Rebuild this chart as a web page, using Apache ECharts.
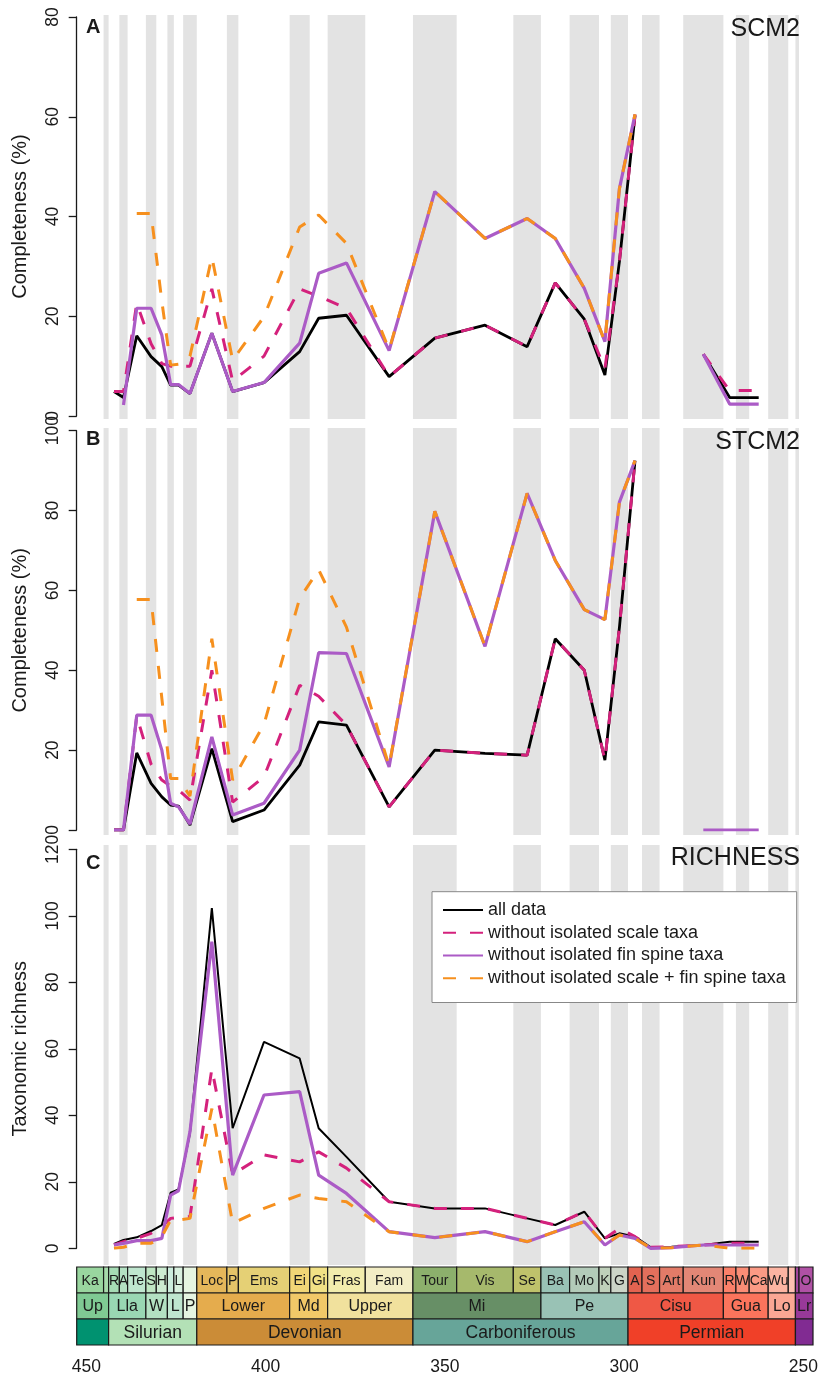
<!DOCTYPE html>
<html><head><meta charset="utf-8">
<script src="https://cdn.jsdelivr.net/npm/echarts@6/dist/echarts.min.js"></script>
<style>html,body{margin:0;padding:0;background:#fff}#c{width:818px;height:1379px}</style>
</head><body><div id="c"></div>
<script>
// ---------- data ----------
// stage midpoints (Ma): Rhu, Aer, Tel, She, Hom, Gor, Lud, Pri, Loc, Pra, Ems, Eif, Giv, Fra, Fam,
// Tou, Vis, Ser, Bas, Mos, Kas, Gzh, Ass, Sak, Art, Kun, Roa, Wor, Cap
const ages = [442.3, 439.65, 435.95, 431.95, 428.95, 426.5, 424.3, 421.1, 415.0, 409.2, 400.45, 390.5, 385.2, 377.45, 365.55,
  352.8, 338.8, 327.05, 319.2, 311.1, 305.35, 301.3, 296.95, 292.55, 286.8, 277.9, 270.55, 266.95, 262.45];

// Panel A: SCM2 (%)
const scmAll    = [4.9, 3.7, 16.1, 11.9, 9.9, 6.2, 6.2, 4.5, 16.6, 4.9, 6.7, 12.9, 19.6, 20.2, 7.9, 15.6, 18.2, 13.9, 26.7, 19.4, 8.2, 31, 60.3, null, null, 12.4, 3.7, 3.7, 3.7];
const scmNoScale= [4.9, 4.9, 22.6, 14.5, 10.5, 10, 10, 10, 25.5, 7, 12, 25.5, 24, 21.6, 7.9, 15.6, 18.2, 13.9, 26.7, 19.4, 9.5, 31, 60.3, null, null, 12.4, 5.1, 5.1, 5.1];
const scmNoFin  = [null, 2.2, 21.6, 21.6, 16.2, 6.3, 6.3, 4.5, 16.6, 4.9, 6.7, 14.6, 28.6, 30.7, 13.1, 45.0, 35.6, 39.6, 35.6, 25.6, 14.9, 45.6, 60.5, null, null, 12.4, 2.4, 2.4, 2.4];
const scmNoBoth = [null, null, 40.6, 40.6, 23, 10.2, 10.4, 12, 31.9, 11.2, 19.9, 37.9, 40.3, 34.6, 13.3, 45.0, 35.6, 39.6, 35.6, 25.6, 14.9, 45.6, 60.5, null, null, null, null, null, null];

// Panel B: STCM2 (%)
const stcmAll    = [0, 0, 19.3, 11.7, 8.3, 6.25, 6.0, 1.25, 20.4, 2.1, 5.0, 16.25, 27.1, 26.25, 5.8, 20, 19.2, 18.75, 47.9, 40, 17.5, 50.75, 92.5, null, null, null, null, null, null];
const stcmNoScale= [0, 0, 28.5, 16.5, 12.5, 11, 10, 7.5, 40, 7, 13.3, 36.25, 33.5, 26.25, 5.8, 20, 19.2, 18.75, 47.9, 40, 17.5, 50.75, 92.5, null, null, null, null, null, null];
const stcmNoFin  = [0, 0, 28.75, 28.75, 20, 6.7, 5.8, 1.5, 23.3, 3.75, 6.7, 20, 44.4, 44.2, 15.8, 79.8, 46, 84.3, 67.5, 55.2, 52.7, 82.1, 92.5, null, null, 0, 0, 0, 0];
const stcmNoBoth = [null, null, 57.7, 57.7, 33, 12.9, 12.9, 8.5, 47.9, 12.5, 26.5, 58, 65.2, 50.8, 16, 79.8, 46, 84.3, 67.5, 55.2, 52.7, 82.1, 92.5, null, null, null, null, null, null];

// Panel C: taxonomic richness
const richAll    = [1.3, 2.5, 3.3, 5.2, 7.0, 16.7, 17.7, 34.6, 102.3, 36.1, 62.1, 57.1, 36.1, 27.5, 14.0, 12.0, 12.0, 9.0, 7.0, 11.0, 3.0, 4.5, 3.5, 0.3, 0.5, 1.0, 2.0, 2.0, 2.0];
const richNoScale= [1.0, 2.0, 3.0, 4.5, 6.5, 9.0, 9.3, 9.5, 54, 22.2, 28.1, 26.0, 29.0, 24.1, 14.0, 12.0, 12.0, 9.0, 7.0, 11.0, 3.0, 6.0, 3.5, 0.3, 0.5, 1.0, 1.5, 1.5, 1.5];
const richNoFin  = [1.0, 1.5, 2.3, 2.3, 3.0, 16.0, 17.3, 35.1, 92.2, 22.0, 46.1, 47.1, 22.0, 16.5, 5.0, 3.2, 5.0, 2.0, 5.0, 8.0, 1.0, 4.0, 3.0, 0, 0.2, 1.0, 1.0, 1.0, 1.0];
const richNoBoth = [0, 0.3, 1.5, 1.5, 3.5, 8.5, 8.5, 9.0, 42, 7.5, 12.0, 16.0, 15.0, 14.0, 5.0, 3.2, 5.0, 2.0, 5.0, 8.0, 1.0, 4.0, 3.0, 0, 0.2, 1.0, 0, 0, 0];

const seriesNames = ['all data', 'without isolated scale taxa', 'without isolated fin spine taxa', 'without isolated scale + fin spine taxa'];
const panelTitles = ['SCM2', 'STCM2', 'RICHNESS'];
const panelLetters = ['A', 'B', 'C'];
const yNames = ['Completeness (%)', 'Completeness (%)', 'Taxonomic richness'];
const yMax = [80, 100, 120];
const yStep = [20, 20, 20];

// alternating grey stage bands (Ma)
const bandStart = [445.2, 440.8, 433.4, 427.4, 423.0, 410.8, 393.3, 382.7, 358.9, 330.9, 315.2, 303.7, 295.0, 283.5, 268.8, 259.8, 252.2];
const bandEnd   = [443.8, 438.5, 430.5, 425.6, 419.2, 407.6, 387.7, 372.2, 346.7, 323.2, 307.0, 298.9, 290.1, 272.3, 265.1, 254.2, 251.2];

// timescale: stages
const stgName  = ['Ka','','R','A','Te','S','H','','L','','Loc','P','Ems','Ei','Gi','Fras','Fam','Tour','Vis','Se','Ba','Mo','K','G','A','S','Art','Kun','R','W','Ca','Wu','','','O'];
const stgStart = [453.0,445.2,443.8,440.8,438.5,433.4,430.5,427.4,425.6,423.0,419.2,410.8,407.6,393.3,387.7,382.7,372.2,358.9,346.7,330.9,323.2,315.2,307.0,303.7,298.9,295.0,290.1,283.5,272.3,268.8,265.1,259.8,254.2,252.2,251.2];
const stgEnd   = [445.2,443.8,440.8,438.5,433.4,430.5,427.4,425.6,423.0,419.2,410.8,407.6,393.3,387.7,382.7,372.2,358.9,346.7,330.9,323.2,315.2,307.0,303.7,298.9,295.0,290.1,283.5,272.3,268.8,265.1,259.8,254.2,252.2,251.2,247.2];
const stgColor = ['#99D69F','#A6DBAB','#A6DCB5','#B3E1C2','#BFE6CF','#BFE6C3','#CCEBD1','#CCECDD','#D9F0DF','#E6F5E1',
  '#E5B75A','#E5C468','#E5D075','#F1D576','#F1E185','#F2EDAD','#F2EDC5',
  '#8CB06C','#A6B96C','#BFC26B','#99C2B5','#B3CBB9','#BFD0BA','#CCD4C7',
  '#E36350','#E36F5C','#E37B68','#E38776','#FB8069','#FB8D76','#FB9A85','#FCB4A2','#FCC0B2','#A4469F','#B051A5'];
// epochs
const epName  = ['Up','Lla','W','L','P','Lower','Md','Upper','Mi','Pe','Cisu','Gua','Lo','Lr'];
const epStart = [458.4,443.8,433.4,427.4,423.0,419.2,393.3,382.7,358.9,323.2,298.9,272.3,259.8,252.2];
const epEnd   = [443.8,433.4,427.4,423.0,419.2,393.3,382.7,358.9,323.2,298.9,272.3,259.8,252.2,247.2];
const epColor = ['#7FCA93','#99D7B3','#B3E1C2','#BFE6CF','#E6F5E1','#E5AC4D','#F1C868','#F1E19D','#678F66','#99C2B5','#EF5845','#FB745C','#FBA794','#983999'];
// periods
const perName  = ['','Silurian','Devonian','Carboniferous','Permian',''];
const perStart = [485.4,443.8,419.2,358.9,298.9,252.2];
const perEnd   = [443.8,419.2,358.9,298.9,252.2,201.3];
const perColor = ['#009270','#B3E1B6','#CB8C37','#67A599','#F04028','#812B92'];

const xTicks = [250,260,270,280,290,300,310,320,330,340,350,360,370,380,390,400,410,420,430,440,450];
const xLabels = [250,300,350,400,450];

// ---------- styling ----------
const FONT = '"Liberation Sans", Arial, Helvetica, sans-serif';
const TXT = '#1a1a1a';
const X_MIN = 247.3, X_MAX = 452.7;
const lineColors = ['#000000', '#D4217C', '#AB5BC6', '#F6901E'];
const gridBase = {left: 76.7, width: 736.3, containLabel: false, outerBoundsMode: 'none'};
const gridRects = [
  Object.assign({top: 17, height: 399}, gridBase),
  Object.assign({top: 430.7, height: 399.3}, gridBase),
  Object.assign({top: 849.3, height: 399}, gridBase),
  Object.assign({top: 1267, height: 78}, gridBase)
];
const bandExt = [[2, 3], [2.7, 5], [4.3, 16.7]];
const panelData = [
  [scmAll, scmNoScale, scmNoFin, scmNoBoth],
  [stcmAll, stcmNoScale, stcmNoFin, stcmNoBoth],
  [richAll, richNoScale, richNoFin, richNoBoth]
];

const xAxes = [], yAxes = [], series = [], graphics = [];
for (let p = 0; p < 3; p++) {
  xAxes.push({gridIndex: p, type: 'value', min: X_MIN, max: X_MAX, inverse: true, show: false});
  yAxes.push({gridIndex: p, type: 'value', min: 0, max: yMax[p], interval: yStep[p],
    name: yNames[p], nameLocation: 'middle', nameGap: 46, nameRotate: 90,
    nameTextStyle: {fontSize: 20, color: TXT, fontFamily: FONT},
    axisLine: {show: true, lineStyle: {color: TXT, width: 1.3}},
    axisTick: {show: true, length: 8, lineStyle: {color: TXT, width: 1.3}},
    axisLabel: {rotate: 90, fontSize: 17.5, color: TXT, margin: 15, fontFamily: FONT},
    splitLine: {show: false}});
  // grey bands
  const ext = bandExt[p];
  series.push({type: 'custom', xAxisIndex: p, yAxisIndex: p, z: 0, silent: true,
    data: bandStart.map((s, i) => [s, bandEnd[i]]),
    encode: {x: [0, 1]},
    renderItem: function (params, api) {
      const cs = params.coordSys;
      const a = api.coord([api.value(0), 0])[0];
      const b = api.coord([api.value(1), 0])[0];
      return {type: 'rect', shape: {x: a, y: cs.y - ext[0], width: b - a, height: cs.height + ext[0] + ext[1]},
        style: {fill: '#e3e3e3'}};
    }});
  // lines
  const widths = [p === 2 ? 2 : 2.8, 3, 3.2, 3];
  const types = ['solid', [13, 14], 'solid', [13, 14]];
  for (let k = 0; k < 4; k++) {
    const vals = panelData[p][k];
    series.push({type: 'line', name: seriesNames[k], xAxisIndex: p, yAxisIndex: p, z: 2 + k,
      data: ages.map((a, i) => [a, vals[i] == null ? '-' : vals[i]]),
      symbol: 'none', showSymbol: false, connectNulls: false, silent: true,
      lineStyle: {color: lineColors[k], width: widths[k], type: types[k]},
      itemStyle: {color: lineColors[k]}});
  }
}
// timescale grid
xAxes.push({gridIndex: 3, type: 'value', min: X_MIN, max: X_MAX, inverse: true, position: 'bottom',
  axisLine: {show: false},
  axisTick: {show: true, length: 9, customValues: xTicks, lineStyle: {color: TXT, width: 1.3}},
  axisLabel: {show: true, customValues: xLabels, fontSize: 17.5, color: TXT, margin: 13, fontFamily: FONT},
  splitLine: {show: false}});
yAxes.push({gridIndex: 3, type: 'value', min: 0, max: 3, inverse: true, show: false});

const tsItems = [];
function addRow(names, starts, ends, colors, row) {
  for (let i = 0; i < names.length; i++)
    tsItems.push({name: names[i], value: [starts[i], ends[i], row], itemStyle: {color: colors[i]}});
}
addRow(stgName, stgStart, stgEnd, stgColor, 0);
addRow(epName, epStart, epEnd, epColor, 1);
addRow(perName, perStart, perEnd, perColor, 2);
const rowFont = [14, 16, 17.5];
series.push({type: 'custom', xAxisIndex: 3, yAxisIndex: 3, z: 1, silent: true, data: tsItems,
  encode: {x: [0, 1], y: 2},
  renderItem: function (params, api) {
    const it = tsItems[params.dataIndex];
    const s = Math.min(api.value(0), X_MAX), e = Math.max(api.value(1), X_MIN);
    const row = api.value(2);
    const p1 = api.coord([s, row]), p2 = api.coord([e, row + 1]);
    return {type: 'group', children: [
      {type: 'rect', shape: {x: p1[0], y: p1[1], width: p2[0] - p1[0], height: p2[1] - p1[1]},
        style: {fill: api.visual('color'), stroke: '#1a1a1a', lineWidth: 1.2}},
      {type: 'text', x: (p1[0] + p2[0]) / 2, y: (p1[1] + p2[1]) / 2 + 1,
        style: {text: it.name, fontSize: rowFont[row], fontFamily: FONT, fill: TXT, align: 'center', verticalAlign: 'middle'}}
    ]};
  }});

// panel letters and titles
const letterY = [27, 439, 863];
const titleY = [29, 442, 858];
for (let p = 0; p < 3; p++) {
  graphics.push({type: 'text', x: 86, y: letterY[p], z: 10,
    style: {text: panelLetters[p], fontSize: 20, fontWeight: 'bold', fontFamily: FONT, fill: TXT, verticalAlign: 'middle'}});
  graphics.push({type: 'text', x: 800, y: titleY[p], z: 10,
    style: {text: panelTitles[p], fontSize: 25, fontFamily: FONT, fill: TXT, align: 'right', verticalAlign: 'middle'}});
}

const chart = echarts.init(document.getElementById('c'), null, {renderer: 'canvas'});
chart.setOption({
  animation: false,
  backgroundColor: '#ffffff',
  grid: gridRects,
  xAxis: xAxes,
  yAxis: yAxes,
  legend: {data: seriesNames, orient: 'vertical', left: 432, top: 891.7, itemWidth: 40, itemHeight: 1, itemGap: 0,
    selectedMode: false, backgroundColor: '#ffffff', borderColor: '#888', borderWidth: 1, padding: [7, 11, 13, 10],
    itemStyle: {opacity: 0, color: 'rgba(0,0,0,0)', borderWidth: 0},
    textStyle: {fontSize: 18, lineHeight: 22.7, color: TXT, fontFamily: FONT}, z: 20},
  graphic: graphics,
  series: series
});
</script></body></html>
